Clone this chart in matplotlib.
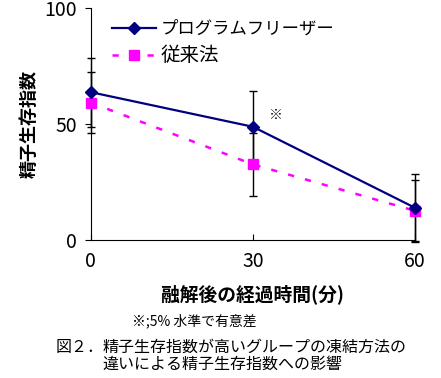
import numpy as np
import matplotlib
matplotlib.use('Agg')
import matplotlib.pyplot as plt

plt.rcParams['font.family'] = ['Noto Sans CJK JP', 'DejaVu Sans']

minutes = [0, 30, 60]
program_freezer = [63.7, 48.8, 13.9]
program_freezer_err = [14.8, 15.4, 14.5]
conventional = [59.2, 32.6, 12.6]
conventional_err = [13.3, 13.6, 13.3]
series_names = ['プログラムフリーザー', '従来法']


fig = plt.figure(figsize=(4.41, 3.78), dpi=100)
ax = fig.add_axes([0.206, 0.365, 0.735, 0.614])

ax.errorbar(minutes, program_freezer, yerr=program_freezer_err, fmt='none',
            ecolor='black', elinewidth=1, capsize=3, capthick=1, clip_on=False, zorder=2)
ax.errorbar(minutes, conventional, yerr=conventional_err, fmt='none',
            ecolor='black', elinewidth=1, capsize=3, capthick=1, clip_on=False, zorder=2)

ax.plot(minutes, program_freezer, color='#000080', lw=1.6, marker='D', markersize=6.5,
        label=series_names[0], clip_on=False, zorder=4)
ax.plot(minutes, conventional, color='#FF00FF', lw=1.8, ls=(0, (2.5, 4.5)), marker='s',
        markersize=7.5, label=series_names[1], clip_on=False, zorder=3)

ax.text(34.3, 54, '※', fontsize=10, fontweight='bold', ha='center', va='center')

ax.set_xlim(0, 60)
ax.set_ylim(0, 100)
ax.set_xticks([0, 30, 60])
ax.set_yticks([0, 50, 100])
ax.tick_params(axis='x', direction='in', length=4, labelsize=14, pad=8)
ax.tick_params(axis='y', direction='out', length=4, labelsize=14, pad=6)
for s in ['top', 'right']:
    ax.spines[s].set_visible(False)

ax.set_xlabel('融解後の経過時間(分)', fontsize=13.5, fontweight='bold', labelpad=9)
ax.set_ylabel('精子生存指数', fontsize=13, fontweight='bold', labelpad=4)

leg = ax.legend(loc='upper left', bbox_to_anchor=(0.02, 1.015), frameon=False, fontsize=12,
                handlelength=2.6, handletextpad=0.3, labelspacing=0.45)
leg.get_texts()[0].set_fontsize(12.5)
leg.get_texts()[1].set_fontsize(14)

fig.text(0.30, 0.151, '※;5% 水準で有意差', fontsize=10, va='center')
fig.text(0.125, 0.082, '図２．', fontsize=11.5, va='center')
fig.text(0.233, 0.082, '精子生存指数が高いグループの凍結方法の', fontsize=11.5, va='center')
fig.text(0.233, 0.035, '違いによる精子生存指数への影響', fontsize=11.5, va='center')

fig.savefig('out.png', dpi=100)
